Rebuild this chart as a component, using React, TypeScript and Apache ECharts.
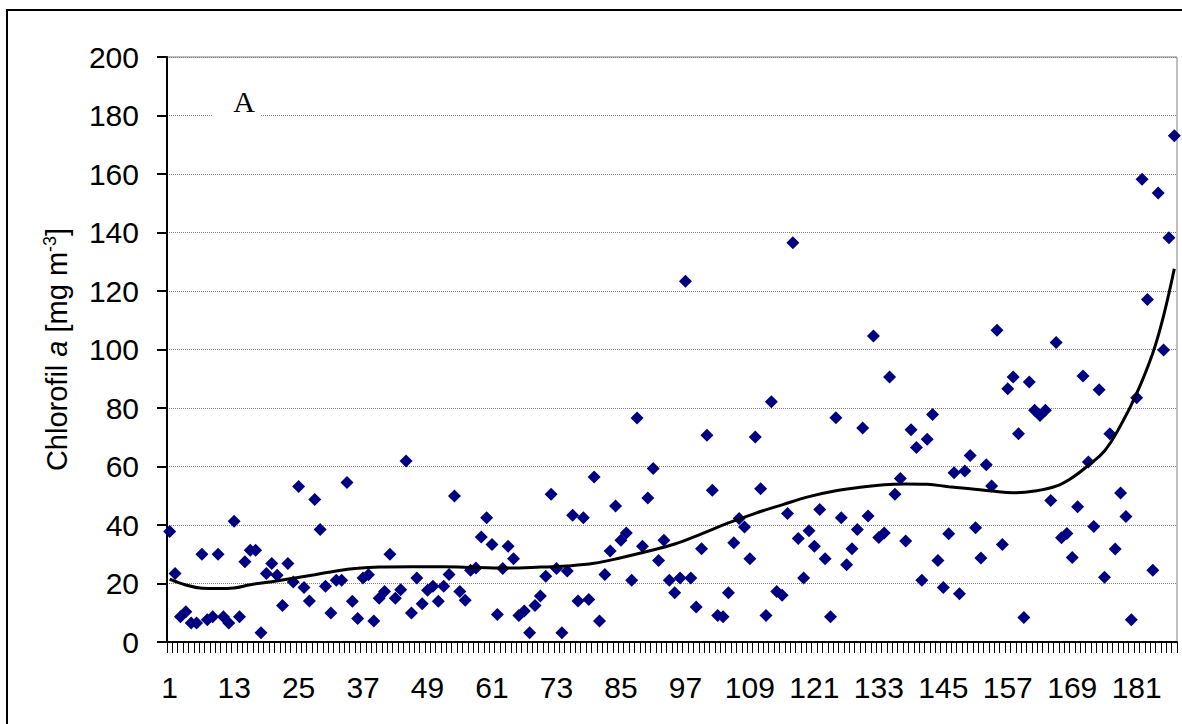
import React, { useEffect, useRef } from "react";
import * as echarts from "echarts";

// Sample numbers along the x axis (1..188), labelled every 12th
const categories: string[] = Array.from({ length: 188 }, (_, i) => String(i + 1));

// Chlorophyll a concentration for each sample [mg m-3]
const chlorophyll: number[] = [
  37.8, 23.4, 8.6, 10.3, 6.5, 6.5, 30.0, 7.6, 8.6, 30.0,
  8.6, 6.5, 41.3, 8.6, 27.4, 31.4, 31.4, 3.2, 23.4, 26.8,
  22.8, 12.5, 26.8, 20.5, 53.2, 18.6, 14.0, 48.7, 38.5, 19.1,
  9.9, 21.1, 21.1, 54.5, 13.9, 8.0, 21.9, 23.0, 7.2, 15.0,
  17.3, 30.0, 15.0, 17.9, 61.9, 9.9, 21.9, 13.1, 17.7, 19.1,
  13.9, 19.1, 23.1, 49.9, 17.3, 14.3, 24.5, 25.3, 35.9, 42.5,
  33.3, 9.4, 25.1, 32.7, 28.5, 9.1, 10.6, 3.2, 12.5, 15.7,
  22.5, 50.5, 25.1, 3.2, 24.3, 43.3, 14.0, 42.5, 14.5, 56.4,
  7.2, 23.1, 31.1, 46.5, 34.8, 37.3, 21.1, 76.6, 32.7, 49.2,
  59.3, 27.9, 34.8, 21.1, 16.8, 21.9, 123.3, 21.9, 12.0, 31.9,
  70.7, 51.9, 9.1, 8.6, 16.8, 33.9, 42.2, 39.3, 28.5, 70.1,
  52.4, 9.1, 82.1, 17.3, 16.0, 43.9, 136.5, 35.4, 21.9, 38.0,
  32.7, 45.3, 28.5, 8.6, 76.7, 42.5, 26.4, 31.9, 38.5, 73.2,
  43.1, 104.6, 35.7, 37.3, 90.6, 50.5, 55.9, 34.5, 72.6, 66.5,
  21.1, 69.3, 77.8, 27.9, 18.6, 37.0, 57.9, 16.5, 58.5, 63.8,
  39.1, 28.7, 60.6, 53.3, 106.6, 33.3, 86.6, 90.6, 71.2, 8.4,
  88.9, 79.2, 77.4, 79.2, 48.4, 102.4, 35.6, 37.1, 28.9, 46.2,
  90.9, 61.5, 39.5, 86.2, 22.1, 71.2, 31.8, 50.9, 42.9, 7.6,
  83.5, 158.2, 117.1, 24.5, 153.5, 99.8, 138.2, 173.1,
];

// Trend curve, sampled at these sample numbers
const trendSamples: string[] = [
  "1", "4", "7", "10", "13", "16", "20", "24", "28", "32",
  "36", "40", "46", "52", "58", "64", "70", "75", "80", "85",
  "90", "95", "100", "105", "110", "115", "120", "125", "130", "134",
  "138", "142", "146", "150", "154", "158", "162", "166", "169", "172",
  "175", "178", "181", "184", "186", "188",
];
const trendValues: number[] = [
  21.5, 19.5, 18.4, 18.3, 18.5, 19.6, 20.6, 21.8, 23.0, 24.3,
  25.2, 25.6, 25.7, 25.7, 25.5, 25.3, 25.6, 26.0, 26.9, 28.8,
  31.0, 33.5, 37.0, 40.7, 44.0, 46.9, 49.7, 51.7, 53.0, 53.8,
  54.0, 53.9, 53.1, 52.4, 51.6, 51.0, 51.6, 53.3, 56.2, 60.4,
  65.3, 74.0, 85.0, 98.8, 111.5, 127.6,
];

const yTicks = { min: 0, max: 200, step: 20 };

const SANS = "'Liberation Sans', Arial, sans-serif";
const SERIF = "'Liberation Serif', 'Times New Roman', serif";

export default function App() {
  const ref = useRef<HTMLDivElement>(null);

  useEffect(() => {
    if (!ref.current) return;
    const chart = echarts.init(ref.current, null, { renderer: "svg" });

    const trendData = trendSamples.map((s, i) => [s, trendValues[i]]);

    chart.setOption({
      animation: false,
      backgroundColor: "#ffffff",
      grid: {
        left: 167,
        right: 5,
        top: 57,
        bottom: 82,
        show: true,
        borderColor: "#808080",
        borderWidth: 1,
        backgroundColor: "transparent",
      },
      xAxis: {
        type: "category",
        data: categories,
        boundaryGap: true,
        axisLine: { show: true, lineStyle: { color: "#000", width: 2 } },
        axisTick: {
          show: true,
          interval: 0,
          length: 11,
          lineStyle: { color: "#000", width: 1 },
        },
        axisLabel: {
          interval: 11,
          fontSize: 30,
          fontFamily: SANS,
          color: "#000",
          margin: 30,
        },
        splitLine: { show: false },
      },
      yAxis: {
        type: "value",
        min: yTicks.min,
        max: yTicks.max,
        interval: yTicks.step,
        name: "{r|Chlorofil }{i|a}{r| [mg m}{s|-3}{r|]}",
        nameLocation: "middle",
        nameRotate: 90,
        nameGap: 94,
        nameTextStyle: {
          fontFamily: SANS,
          fontSize: 29,
          color: "#000",
          rich: {
            r: { fontFamily: SANS, fontSize: 29, color: "#000", lineHeight: 32 },
            i: {
              fontFamily: SANS,
              fontSize: 29,
              fontStyle: "italic",
              color: "#000",
              lineHeight: 32,
            },
            s: {
              fontFamily: SANS,
              fontSize: 18,
              color: "#000",
              lineHeight: 18,
              verticalAlign: "top",
            },
          },
        },
        axisLine: { show: true, lineStyle: { color: "#000", width: 2 } },
        axisTick: { show: true, length: 10, lineStyle: { color: "#000", width: 2 } },
        axisLabel: {
          fontSize: 30,
          fontFamily: SANS,
          color: "#000",
          margin: 28,
        },
        splitLine: {
          show: true,
          lineStyle: { color: "#808080", width: 1, type: "dotted" },
        },
      },
      graphic: [
        {
          type: "rect",
          z: 100,
          shape: { x: 7, y: 10, width: 1300, height: 900 },
          style: { fill: "none", stroke: "#000", lineWidth: 2 },
          silent: true,
        },
        {
          type: "rect",
          z: 100,
          shape: { x: 213, y: 84, width: 48, height: 34 },
          style: { fill: "#ffffff" },
          silent: true,
        },
        {
          type: "text",
          z: 101,
          x: 244,
          y: 101,
          style: {
            text: "A",
            fontFamily: SERIF,
            fontSize: 30,
            fill: "#000",
            align: "center",
            verticalAlign: "middle",
          },
          silent: true,
        },
      ],
      series: [
        {
          type: "scatter",
          name: "Chlorofil a",
          data: chlorophyll,
          symbol: "diamond",
          symbolSize: 13,
          itemStyle: { color: "#000080", opacity: 1 },
          z: 3,
        },
        {
          type: "line",
          name: "trend",
          data: trendData,
          smooth: 0.4,
          showSymbol: false,
          symbol: "none",
          lineStyle: { color: "#000", width: 3 },
          z: 4,
        },
      ],
    });

    return () => chart.dispose();
  }, []);

  return (
    <div
      ref={ref}
      style={{
        position: "fixed",
        left: 0,
        top: 0,
        width: 1182,
        height: 724,
        background: "#fff",
      }}
    />
  );
}
